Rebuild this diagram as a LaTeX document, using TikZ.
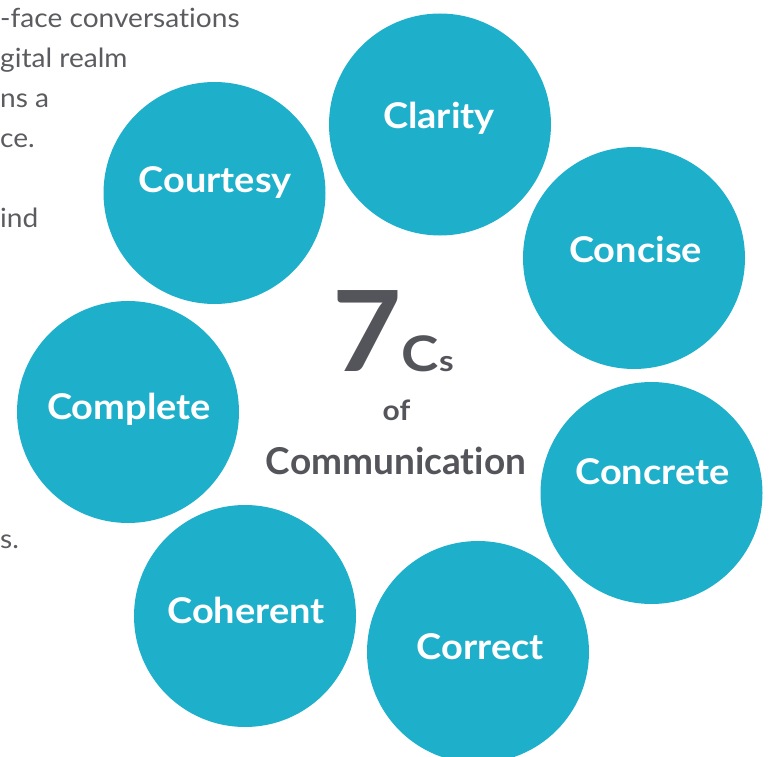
\documentclass[tikz,border=0pt]{standalone}
\usepackage{fontspec}
\setmainfont{Lato}[Ligatures={NoCommon,NoDiscretionary,NoRare}]
\newfontfamily\widelato{Lato}[FakeStretch=1.07,Ligatures={NoCommon,NoDiscretionary,NoRare}]
\newfontfamily\wideLato{Lato}[FakeStretch=1.15,Ligatures={NoCommon,NoDiscretionary,NoRare}]
\newfontfamily\bodylato{Lato}[FakeStretch=1.06,Ligatures={NoCommon,NoDiscretionary,NoRare}]
\definecolor{teal7}{HTML}{1EB0CB}
\definecolor{gray7}{HTML}{54555A}
\definecolor{body7}{HTML}{5B5C60}
\tikzset{
  bubble/.style={circle, fill=teal7, draw=none, minimum size=222pt, inner sep=0pt},
  blabel/.style={anchor=base, inner sep=0pt, text=white, font=\widelato\fontsize{35.5}{40}\selectfont\bfseries},
  bodyline/.style={anchor=base west, inner sep=0pt, text=body7, font=\bodylato\fontsize{26.5}{30}\selectfont},
  ctext/.style={anchor=base, inner sep=0pt, text=gray7}
}
\begin{document}
\begin{tikzpicture}[x=1pt,y=-1pt]
\useasboundingbox (0,0) rectangle (769,757);
% background body text (partly hidden)
\node[bodyline] (t1) at (0,28) {-face conversations};
\node[bodyline] (t2) at (0,68) {gital realm};
\node[bodyline] (t3) at (0,108) {ns a};
\node[bodyline] (t4) at (0,148) {ce.};
\node[bodyline] (t5) at (0,228) {ind};
\node[bodyline] (t6) at (0,548) {s.};
% bubbles
\node[bubble] (clarity)  at (440,124.5) {};
\node[bubble] (courtesy) at (214.5,193) {};
\node[bubble] (concise)  at (634,258) {};
\node[bubble] (complete) at (128,412) {};
\node[bubble] (concrete) at (651.5,493) {};
\node[bubble] (coherent) at (245,616) {};
\node[bubble] (correct)  at (478,652) {};
% labels
\node[blabel] (lclarity)  at (439,129) {Clarity};
\node[blabel] (lcourtesy) at (215,193) {Courtesy};
\node[blabel] (lconcise)  at (635.5,262) {Concise};
\node[blabel] (lcomplete) at (129,419) {Complete};
\node[blabel] (lconcrete) at (652.5,484) {Concrete};
\node[blabel] (lcoherent) at (246,623) {Coherent};
\node[blabel] (lcorrect)  at (480.5,659) {Correct};
% centre title
\node[ctext] (seven) at (393,371) {{\widelato\fontsize{112}{112}\selectfont\bfseries 7}\kern0pt{\wideLato\fontsize{49}{49}\selectfont\bfseries C}{\wideLato\fontsize{29}{29}\selectfont\bfseries s}};
\node[ctext, font=\widelato\fontsize{28}{30}\selectfont\bfseries] (of) at (396.5,420) {of};
\node[ctext, font=\fontsize{37}{40}\selectfont\bfseries] (comm) at (396,474) {Communication};
\end{tikzpicture}
\end{document}
